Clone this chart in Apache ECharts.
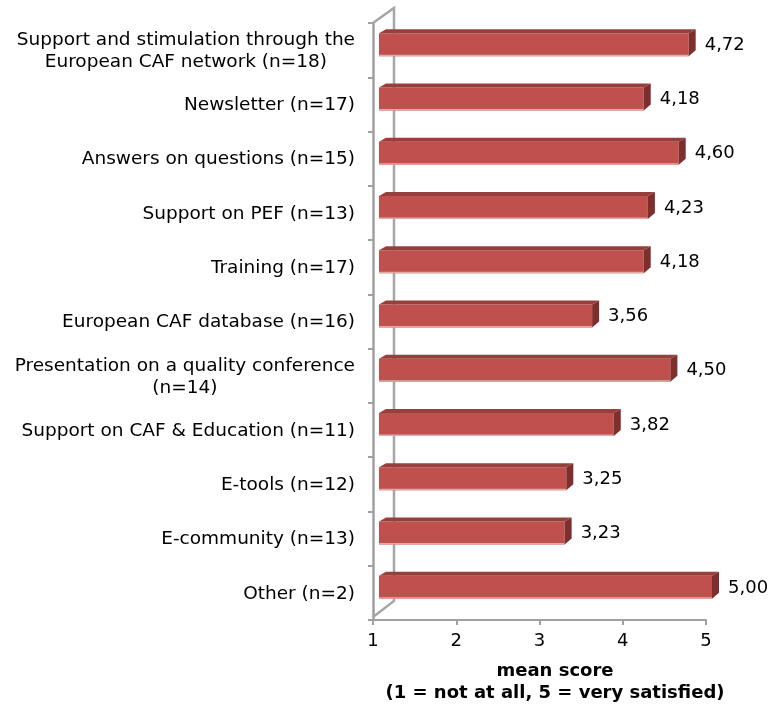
<!DOCTYPE html>
<html>
<head>
<meta charset="utf-8">
<script src="https://cdn.jsdelivr.net/npm/echarts@6/dist/echarts.min.js"></script>
<style>
html,body{margin:0;padding:0;background:#fff;}
#chart{width:771px;height:708px;}
</style>
</head>
<body>
<div id="chart"></div>
<script>
const categories = [
  'Support and stimulation through the\nEuropean CAF network (n=18)',
  'Newsletter (n=17)',
  'Answers on questions (n=15)',
  'Support on PEF (n=13)',
  'Training (n=17)',
  'European CAF database (n=16)',
  'Presentation on a quality conference\n(n=14)',
  'Support on CAF & Education (n=11)',
  'E-tools (n=12)',
  'E-community (n=13)',
  'Other (n=2)'
];
const meanScores = [4.72, 4.18, 4.60, 4.23, 4.18, 3.56, 4.50, 3.82, 3.25, 3.23, 5.00];
const xTicks = [1, 2, 3, 4, 5];
const axisTitle = 'mean score\n(1 = not at all, 5 = very satisfied)';

const FONT = '"DejaVu Sans", Verdana, sans-serif';
const LABEL_SIZE = 18.5;
const measureCtx = document.createElement('canvas').getContext('2d');
measureCtx.font = LABEL_SIZE + 'px "DejaVu Sans"';
function blockWidth(s){
  return Math.max.apply(null, s.split('\n').map(l => measureCtx.measureText(l).width));
}

const chart = echarts.init(document.getElementById('chart'));
const GRID = {left: 373, top: 23, width: 333, height: 597};
const DX = 7, DY = 4, SHIFT = 6;

chart.setOption({
  animation: false,
  backgroundColor: '#ffffff',
  grid: GRID,
  xAxis: {
    type: 'value',
    min: xTicks[0], max: xTicks[xTicks.length - 1], interval: 1,
    axisLine: {show: true, lineStyle: {color: '#a0a0a0', width: 2}},
    axisTick: {show: true, length: 5, lineStyle: {color: '#a0a0a0', width: 2}},
    splitLine: {show: false},
    axisLabel: {fontFamily: FONT, fontSize: 18, color: '#000', margin: 12,
      formatter: v => String(v)}
  },
  yAxis: {
    type: 'category',
    inverse: true,
    data: categories,
    axisLine: {show: true, lineStyle: {color: '#a0a0a0', width: 2.5}},
    axisTick: {show: true, length: 5, lineStyle: {color: '#a0a0a0', width: 2}},
    axisLabel: {show: false},
    splitLine: {show: false}
  },
  graphic: [
    {type: 'polyline', z: 1, shape: {points: [[373, 23], [394, 8], [394, 601], [373, 617]]},
      style: {stroke: '#a6a6a6', lineWidth: 2.5, fill: null}},
    {type: 'text', z: 10, x: 555, y: 682,
      style: {text: axisTitle, align: 'center', verticalAlign: 'middle', lineHeight: 22,
        fontFamily: FONT, fontWeight: 'bold', fontSize: 18, fill: '#000'}}
  ],
  series: [{
    type: 'custom',
    clip: false,
    z: 5,
    data: meanScores.map((v, i) => [v, i]),
    encode: {x: 0, y: 1},
    renderItem: function(params, api){
      const v = api.value(0), i = api.value(1);
      const p0 = api.coord([1, i]);
      const p1 = api.coord([v, i]);
      const cy = p0[1];
      const x0 = p0[0] + SHIFT, x1 = p1[0] + SHIFT;
      const top = cy - 17, h = 23;
      const cat = categories[i];
      const bw = blockWidth(cat);
      return {
        type: 'group',
        children: [
          {type: 'rect', shape: {x: x0, y: top, width: x1 - x0, height: h},
            style: {fill: '#c0504d'}},
          {type: 'rect', shape: {x: x0, y: top + h - 1.5, width: x1 - x0, height: 1.5},
            style: {fill: '#e6a8a6'}},
          {type: 'polygon', shape: {points: [[x0, top], [x0 + DX, top - DY], [x1 + DX, top - DY], [x1, top]]},
            style: {fill: '#95403d'}},
          {type: 'polygon', shape: {points: [[x1, top], [x1 + DX, top - DY], [x1 + DX, top - DY + h - 2], [x1, top + h]]},
            style: {fill: '#7d2f2d'}},
          {type: 'text', style: {text: v.toFixed(2).replace('.', ','), x: x1 + DX + 9, y: cy - 5,
            align: 'left', verticalAlign: 'middle', fontFamily: FONT, fontSize: 18, fill: '#000'}},
          {type: 'text', style: {text: cat, x: p0[0] - 18 - bw / 2, y: cy + 1,
            align: 'center', verticalAlign: 'middle', lineHeight: 22,
            fontFamily: FONT, fontSize: LABEL_SIZE, fill: '#000'}}
        ]
      };
    }
  }]
});
</script>
</body>
</html>
